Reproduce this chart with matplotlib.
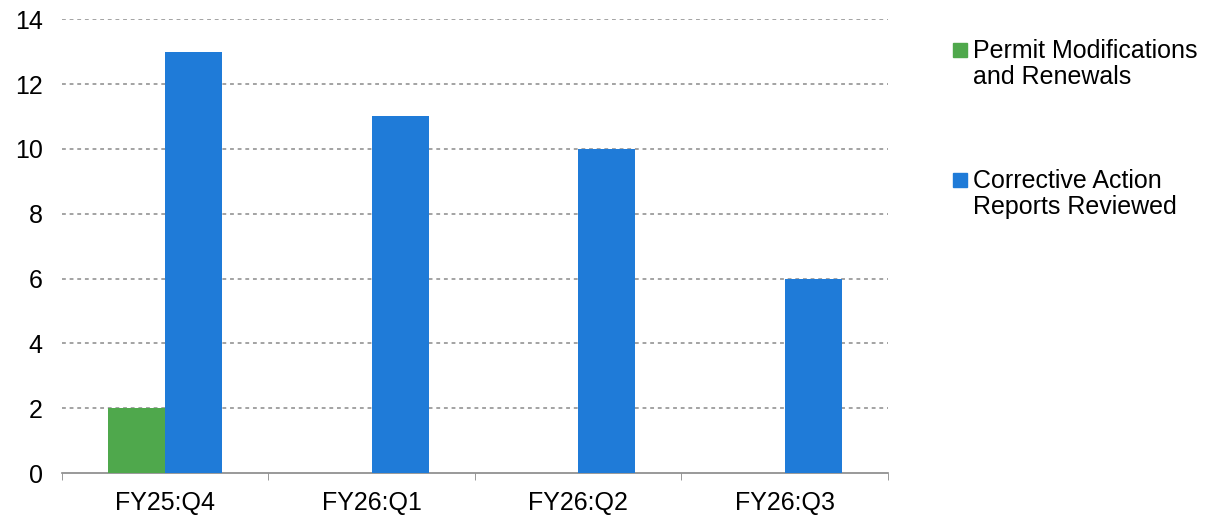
import matplotlib
matplotlib.use("Agg")
import matplotlib.pyplot as plt
from matplotlib.patches import Rectangle
import numpy as np

categories = ["FY25:Q4", "FY26:Q1", "FY26:Q2", "FY26:Q3"]
permit_mods = [2, 0, 0, 0]
corrective = [13, 11, 10, 6]
series_names = ["Permit Modifications\nand Renewals", "Corrective Action\nReports Reviewed"]
colors = ["#4fa84c", "#1f7bd8"]

plt.rcParams['font.family'] = ['Liberation Sans', 'DejaVu Sans']

W, H = 1210, 519
fig = plt.figure(figsize=(W / 100, H / 100), dpi=100)
ax = fig.add_axes([0.0512, 0.0886, 0.6826, 0.8744])

x = np.arange(len(categories))
w = 0.276
ax.bar(x - w / 2, permit_mods, w, color=colors[0], zorder=3)
ax.bar(x + w / 2, corrective, w, color=colors[1], zorder=3)

ax.set_xlim(-0.5, len(categories) - 0.5)
ax.set_ylim(0, 14)
ax.set_yticks(range(0, 15, 2))
ax.set_xticks(x)
ax.set_xticklabels(categories, fontsize=18)
ax.set_xticks(np.arange(-0.5, len(categories), 1.0), minor=True)
ax.tick_params(axis='x', which='major', length=0, pad=13)
ax.tick_params(axis='x', which='minor', length=5, color='#888888', direction='out')
ax.tick_params(axis='y', length=0, pad=14, labelsize=18)

for s in ['top', 'right', 'left']:
    ax.spines[s].set_visible(False)
ax.spines['bottom'].set_color('#888888')
ax.spines['bottom'].set_linewidth(1.2)

for yv in range(2, 15, 2):
    ax.axhline(yv, color='#8a8a8a', linestyle=(0, (2.5, 2.5)), linewidth=1.1, zorder=1)

# legend (manual)
sq_tops = [43, 173]
for name, c, top in zip(series_names, colors, sq_tops):
    fig.patches.append(Rectangle((953 / W, 1 - (top + 14) / H), 14 / W, 14 / H,
                                 transform=fig.transFigure, color=c))
    fig.text(973 / W, 1 - (top - 4) / H, name, fontsize=18, va='top', ha='left',
             linespacing=1.1)

fig.savefig("out.png", dpi=100)
